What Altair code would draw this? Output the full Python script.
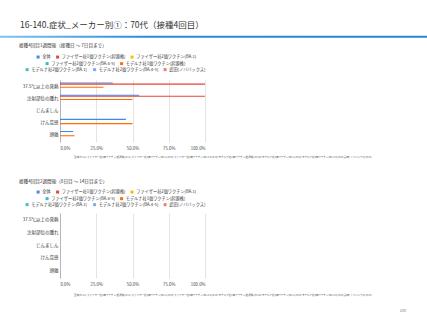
import altair as alt
import pandas as pd

FONT = "Noto Sans CJK JP"

TITLE = "16-140.症状_メーカー別①：70代（接種4回目）"
SUB1 = "接種4回目1週間後（接種日 ～ 7日目まで）"
SUB2 = "接種4回目2週間後（8日目 ～ 14日目まで）"
PAGE = "288"

symptoms = ["37.5℃以上の発熱", "注射部位の腫れ", "じんましん", "けん怠感", "頭痛"]
series = [
    "全体",
    "ファイザー社1価ワクチン(起源株)",
    "ファイザー社2価ワクチン(BA.1)",
    "ファイザー社2価ワクチン(BA.4-5)",
    "モデルナ社1価ワクチン(起源株)",
    "モデルナ社2価ワクチン(BA.1)",
    "モデルナ社2価ワクチン(BA.4-5)",
    "武田(ノババックス)",
]
colors = ["#4285F4", "#EA4335", "#FBBC04", "#3DB8C4", "#FF6D01", "#46BDC6", "#7BAAF7", "#F07B72"]
n_counts = [11, 1, 0, 0, 10, 0, 0, 0]

# legend rows as laid out in the reference
legend_rows = [[0, 1, 2], [3, 4], [5, 6, 7]]

# week 1 (day 0-7)
w1_all = [0.364, 0.545, 0.0, 0.455, 0.091]
w1_pf1 = [1.0, 1.0, 0.0, 0.0, 0.0]
w1_pfba1 = [0.0, 0.0, 0.0, 0.0, 0.0]
w1_pfba45 = [0.0, 0.0, 0.0, 0.0, 0.0]
w1_md1 = [0.30, 0.50, 0.0, 0.50, 0.10]
w1_mdba1 = [0.0, 0.0, 0.0, 0.0, 0.0]
w1_mdba45 = [0.0, 0.0, 0.0, 0.0, 0.0]
w1_takeda = [0.0, 0.0, 0.0, 0.0, 0.0]

# week 2 (day 8-14)
w2_all = [0.0, 0.0, 0.0, 0.0, 0.0]
w2_pf1 = [0.0, 0.0, 0.0, 0.0, 0.0]
w2_pfba1 = [0.0, 0.0, 0.0, 0.0, 0.0]
w2_pfba45 = [0.0, 0.0, 0.0, 0.0, 0.0]
w2_md1 = [0.0, 0.0, 0.0, 0.0, 0.0]
w2_mdba1 = [0.0, 0.0, 0.0, 0.0, 0.0]
w2_mdba45 = [0.0, 0.0, 0.0, 0.0, 0.0]
w2_takeda = [0.0, 0.0, 0.0, 0.0, 0.0]

x_ticks = [0, 0.25, 0.5, 0.75, 1.0]


def build_df(lists):
    rows = []
    for s, vals in zip(series, lists):
        for sym, v in zip(symptoms, vals):
            rows.append({"symptom": sym, "series": s, "value": v})
    return pd.DataFrame(rows)


df1 = build_df([w1_all, w1_pf1, w1_pfba1, w1_pfba45, w1_md1, w1_mdba1, w1_mdba45, w1_takeda])
df2 = build_df([w2_all, w2_pf1, w2_pfba1, w2_pfba45, w2_md1, w2_mdba1, w2_mdba45, w2_takeda])

footnote = "   ".join(f"{s}(n={n})" for s, n in zip(series, n_counts))


def text_layer(txt, x, y, size, color="#333333", align="left"):
    return alt.Chart(pd.DataFrame({"t": [txt]})).mark_text(
        align=align, baseline="middle", font=FONT, fontSize=size, color=color
    ).encode(x=alt.value(x), y=alt.value(y), text="t:N")


def bar_layer(df, idxs, lx, ly):
    sub = [series[i] for i in idxs]
    sub_colors = [colors[i] for i in idxs]
    return alt.Chart(df).transform_filter(
        alt.FieldOneOfPredicate(field="series", oneOf=sub)
    ).mark_bar().encode(
        x=alt.X(
            "value:Q",
            scale=alt.Scale(domain=[0, 1]),
            axis=alt.Axis(
                format=".1%", values=x_ticks, title=None, domain=False, ticks=False,
                labelFontSize=4.3, labelFont=FONT, labelColor="#444444",
                gridColor="#e4e4e4", labelPadding=4,
            ),
        ),
        y=alt.Y(
            "symptom:N", sort=symptoms,
            scale=alt.Scale(domain=symptoms, paddingInner=0.3, paddingOuter=0.21),
            axis=alt.Axis(
                title=None, ticks=False, grid=False, domainColor="#b5b5b5",
                labelFontSize=4.5, labelFont=FONT, labelColor="#333333", labelPadding=2,
            ),
        ),
        yOffset=alt.YOffset("series:N", sort=series, scale=alt.Scale(domain=series)),
        color=alt.Color(
            "series:N", sort=sub,
            scale=alt.Scale(domain=sub, range=sub_colors),
            legend=alt.Legend(
                title=None, orient="none", legendX=lx, legendY=ly,
                direction="horizontal", symbolType="square", symbolSize=9,
                symbolStrokeWidth=0, labelFontSize=4.2, labelFont=FONT,
                labelColor="#333333", columnPadding=4.5, labelOffset=2, padding=0,
            ),
        ),
    )


def bars(df, ly_list):
    lx_list = [-24, -15, -35]
    return [bar_layer(df, idxs, lx, ly) for idxs, lx, ly in zip(legend_rows, lx_list, ly_list)]


one = pd.DataFrame({"k": [0]})

frame = alt.Chart(one).mark_rect(opacity=0).encode(
    x=alt.value(-60), x2=alt.value(367), y=alt.value(-80), y2=alt.value(240)
)

blue_line = alt.Chart(one).mark_rect(
    fill=alt.LinearGradient(
        gradient="linear",
        stops=[
            alt.GradientStop(color="#7cc4ee", offset=0),
            alt.GradientStop(color="#2a8bd6", offset=0.35),
            alt.GradientStop(color="#2386d3", offset=1),
        ],
        x1=0, x2=1, y1=0, y2=0,
    )
).encode(x=alt.value(-60), x2=alt.value(367), y=alt.value(-44.3), y2=alt.value(-42.3))

panel1 = alt.layer(
    frame,
    blue_line,
    text_layer(TITLE, -40, -55, 8.5),
    text_layer(SUB1, -41, -34, 4.6),
    *bars(df1, [-25.4, -18.8, -12.8]),
    text_layer(footnote, 14, 77, 2.5, color="#555555"),
).resolve_scale(color="independent").resolve_legend(color="independent").properties(width=145, height=62)

panel2 = alt.layer(
    text_layer(SUB2, -41, -30.7, 4.6),
    *bars(df2, [-23.4, -16.8, -10.8]),
    text_layer(footnote, 14, 82, 2.5, color="#555555"),
    text_layer(PAGE, 340, 98, 3.5, color="#777777"),
).resolve_scale(color="independent").resolve_legend(color="independent").properties(width=145, height=65)

chart = (
    alt.vconcat(panel1, panel2, spacing=71, bounds="flush")
    .resolve_scale(color="independent")
    .resolve_legend(color="independent")
    .properties(padding={"left": 0, "top": 0, "right": 0, "bottom": 0})
    .configure_view(stroke=None)
)

chart.save("out.html", embed_options={"renderer": "svg", "actions": False})
